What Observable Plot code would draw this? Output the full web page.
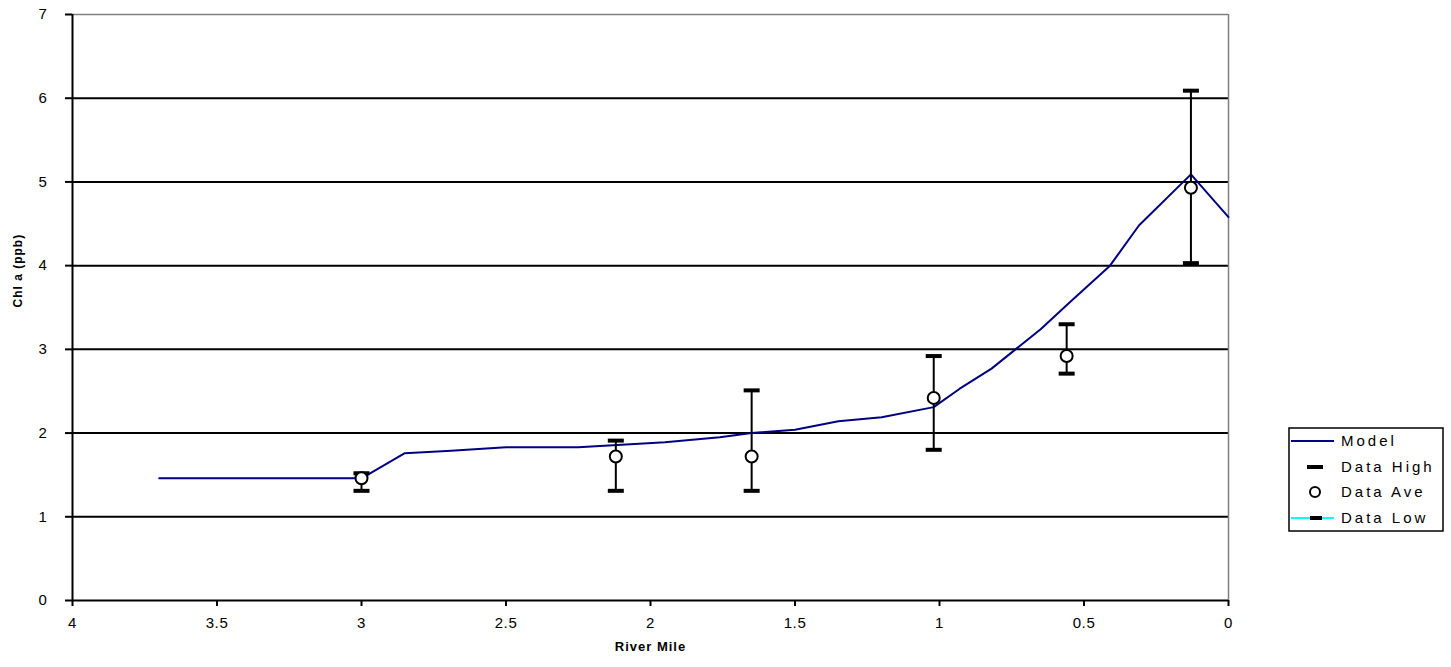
<!DOCTYPE html>
<html>
<head>
<meta charset="utf-8">
<script src="https://cdn.jsdelivr.net/npm/d3@7"></script>
<script src="https://cdn.jsdelivr.net/npm/@observablehq/plot@0.6"></script>
<style>
  html, body { margin: 0; padding: 0; background: #fff; }
  #chart { position: relative; width: 1451px; height: 667px; }
</style>
</head>
<body>
<div id="chart"></div>
<script>
// ---- data ----
const modelMile  = [3.7, 3.0, 2.85, 2.69, 2.5, 2.25, 2.1, 1.95, 1.76, 1.65, 1.5, 1.35, 1.2, 1.02, 0.93, 0.82, 0.65, 0.55, 0.41, 0.31, 0.13, 0.0];
const modelChl   = [1.46, 1.46, 1.76, 1.79, 1.83, 1.83, 1.86, 1.89, 1.95, 2.0, 2.04, 2.14, 2.19, 2.31, 2.53, 2.77, 3.24, 3.56, 4.0, 4.48, 5.09, 4.58];

const dataMile = [3.0, 2.12, 1.65, 1.02, 0.56, 0.13];
const dataHigh = [1.52, 1.91, 2.51, 2.92, 3.30, 6.09];
const dataAve  = [1.46, 1.72, 1.72, 2.42, 2.92, 4.93];
const dataLow  = [1.31, 1.31, 1.31, 1.80, 2.71, 4.03];

const xTicks = [4, 3.5, 3, 2.5, 2, 1.5, 1, 0.5, 0];
const yTicks = [0, 1, 2, 3, 4, 5, 6, 7];

const seriesNames = ["Model", "Data High", "Data Ave", "Data Low"];
const xLabel = "River Mile";
const yLabel = "Chl a (ppb)";

// ---- tables ----
const model = modelMile.map((m, i) => ({mile: m, chl: modelChl[i]}));
const obs = dataMile.map((m, i) => ({mile: m, high: dataHigh[i], ave: dataAve[i], low: dataLow[i]}));

const dash = {draw(ctx, size) { ctx.moveTo(-8, 0); ctx.lineTo(8, 0); }};

const FONT = "'Liberation Sans', Arial, Helvetica, sans-serif";

const plot = Plot.plot({
  width: 1451,
  height: 667,
  marginLeft: 72,
  marginRight: 223,
  marginTop: 14,
  marginBottom: 67,
  style: {fontFamily: FONT, fontSize: "15px", color: "black", background: "white"},
  x: {domain: [4, 0]},
  y: {domain: [0, 7]},
  marks: [
    Plot.ruleY(yTicks.filter(d => d > 0 && d < 7), {stroke: "black", strokeWidth: 2}),
    Plot.ruleY([7], {stroke: "#808080", strokeWidth: 1.5}),
    Plot.ruleX([0], {stroke: "#808080", strokeWidth: 1.5}),
    Plot.axisY({ticks: yTicks, tickSize: 7, tickPadding: 18, strokeWidth: 2, label: null, fill: "black", tickFormat: d => String(d)}),
    Plot.axisX({ticks: xTicks, tickSize: 6, tickPadding: 11, strokeWidth: 2, label: null, fill: "black", tickFormat: d => String(d)}),
    Plot.ruleX([4], {stroke: "black", strokeWidth: 2}),
    Plot.ruleY([0], {stroke: "black", strokeWidth: 2}),
    Plot.line(model, {x: "mile", y: "chl", stroke: "#000080", strokeWidth: 2}),
    Plot.ruleX(obs, {x: "mile", y1: "low", y2: "high", stroke: "black", strokeWidth: 2}),
    Plot.dot(obs, {x: "mile", y: "high", symbol: dash, r: 5, stroke: "black", strokeWidth: 4, fill: "none"}),
    Plot.dot(obs, {x: "mile", y: "low", symbol: dash, r: 5, stroke: "black", strokeWidth: 4, fill: "none"}),
    Plot.dot(obs, {x: "mile", y: "ave", r: 6, stroke: "black", strokeWidth: 2, fill: "white"}),
    Plot.text([xLabel], {frameAnchor: "bottom", dy: 50, fontWeight: "bold", fontSize: 13, fill: "black"}),
    Plot.text([yLabel], {frameAnchor: "left", dx: -54, rotate: -90, fontWeight: "bold", fontSize: 12, fill: "black"})
  ]
});

const svg = d3.select(plot);
const tickTexts = new Set([...xTicks, ...yTicks].map(String));
svg.selectAll("text").each(function() {
  const t = this.textContent.trim();
  if (tickTexts.has(t)) {
    this.setAttribute("font-size", "15");
    this.style.fontSize = "15px";
    this.style.letterSpacing = "0.6px";
  } else if (t === xLabel || t === yLabel) {
    this.style.letterSpacing = "1px";
  }
});

// ---- legend ----
const lg = svg.append("g").attr("font-family", FONT).attr("font-size", 15).attr("text-anchor", "start");
const bx = 1289, by = 428, bw = 154, bh = 103;
lg.append("rect").attr("x", bx).attr("y", by).attr("width", bw).attr("height", bh)
  .attr("fill", "white").attr("stroke", "black").attr("stroke-width", 1.5);
const rowY = [441, 467, 492, 518];
const sx1 = 1291, sx2 = 1334, sxc = 1315;
lg.append("line").attr("x1", sx1).attr("x2", sx2).attr("y1", rowY[0]).attr("y2", rowY[0]).attr("stroke", "#000080").attr("stroke-width", 2);
lg.append("line").attr("x1", sxc - 8).attr("x2", sxc + 8).attr("y1", rowY[1]).attr("y2", rowY[1]).attr("stroke", "black").attr("stroke-width", 4);
lg.append("circle").attr("cx", sxc).attr("cy", rowY[2]).attr("r", 5).attr("fill", "white").attr("stroke", "black").attr("stroke-width", 2);
lg.append("line").attr("x1", sx1).attr("x2", sx2).attr("y1", rowY[3]).attr("y2", rowY[3]).attr("stroke", "cyan").attr("stroke-width", 2);
lg.append("line").attr("x1", sxc - 5).attr("x2", sxc + 7).attr("y1", rowY[3]).attr("y2", rowY[3]).attr("stroke", "black").attr("stroke-width", 4);
seriesNames.forEach((name, i) => {
  lg.append("text").attr("x", 1341).attr("y", rowY[i]).attr("dy", "0.35em")
    .attr("fill", "black").attr("letter-spacing", "3px").text(name);
});

document.getElementById("chart").appendChild(plot);
</script>
</body>
</html>
